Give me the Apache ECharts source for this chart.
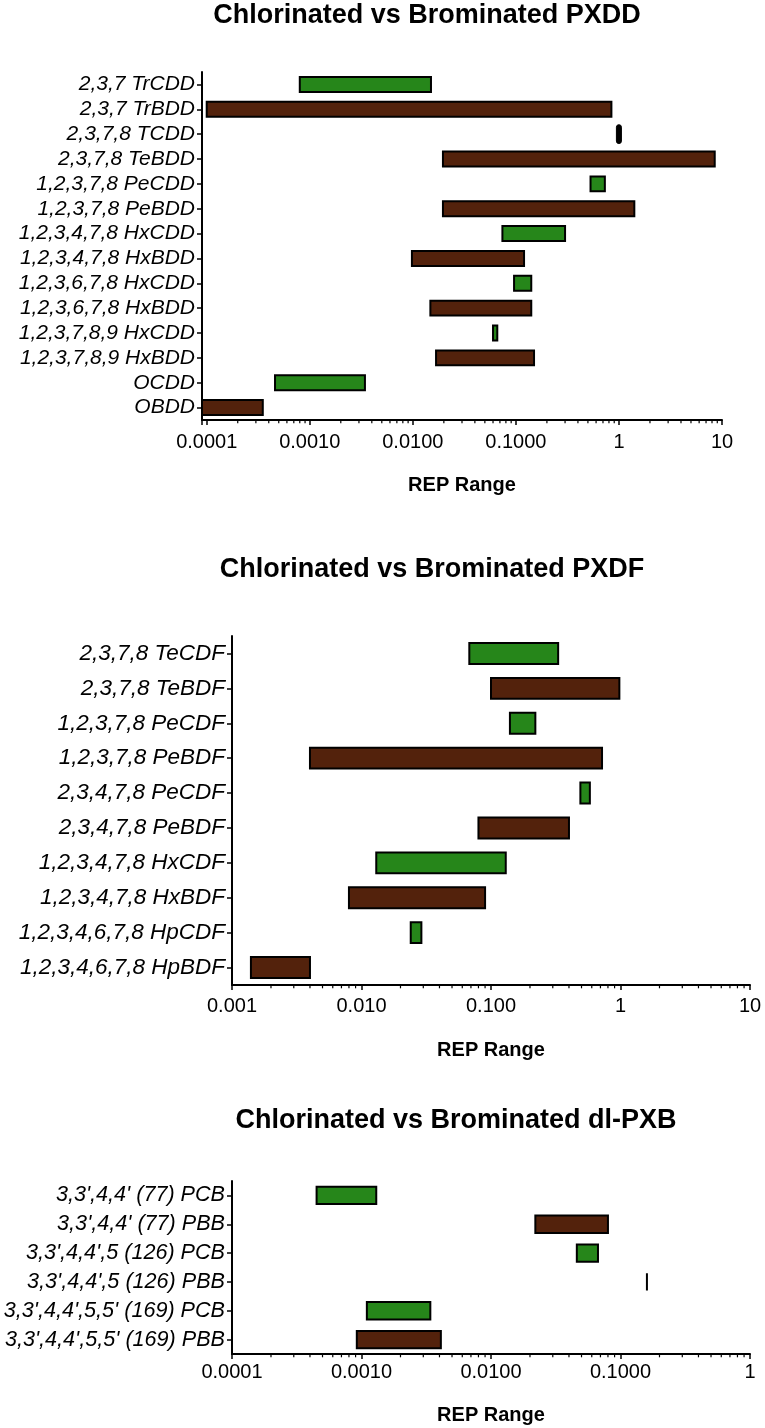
<!DOCTYPE html>
<html><head><meta charset="utf-8">
<script src="https://cdn.jsdelivr.net/npm/echarts@6/dist/echarts.min.js"></script>
<style>html,body{margin:0;padding:0;background:#fff}#c{width:765px;height:1428px}</style>
</head><body><div id="c"></div>
<script>
// ---------- data ----------
const pxddCategories = ['2,3,7 TrCDD','2,3,7 TrBDD','2,3,7,8 TCDD','2,3,7,8 TeBDD','1,2,3,7,8 PeCDD','1,2,3,7,8 PeBDD','1,2,3,4,7,8 HxCDD','1,2,3,4,7,8 HxBDD','1,2,3,6,7,8 HxCDD','1,2,3,6,7,8 HxBDD','1,2,3,7,8,9 HxCDD','1,2,3,7,8,9 HxBDD','OCDD','OBDD'];
const pxddLow  = [0.0008, 0.0001, 0.965, 0.0196, 0.53, 0.0196, 0.074, 0.0098, 0.096, 0.0148, 0.060, 0.0168, 0.00046, 0.00009];
const pxddHigh = [0.015, 0.845, 1.035, 8.5, 0.73, 1.41, 0.30, 0.12, 0.141, 0.141, 0.066, 0.150, 0.00343, 0.00035];
const pxddHalogen = ['Cl','Br','ref','Br','Cl','Br','Cl','Br','Cl','Br','Cl','Br','Cl','Br'];
const pxddTickLabels = ['0.0001','0.0010','0.0100','0.1000','1','10'];

const pxdfCategories = ['2,3,7,8 TeCDF','2,3,7,8 TeBDF','1,2,3,7,8 PeCDF','1,2,3,7,8 PeBDF','2,3,4,7,8 PeCDF','2,3,4,7,8 PeBDF','1,2,3,4,7,8 HxCDF','1,2,3,4,7,8 HxBDF','1,2,3,4,6,7,8 HpCDF','1,2,3,4,6,7,8 HpBDF'];
const pxdfLow  = [0.068, 0.10, 0.14, 0.004, 0.49, 0.08, 0.013, 0.008, 0.024, 0.0014];
const pxdfHigh = [0.33, 0.98, 0.22, 0.72, 0.58, 0.40, 0.13, 0.09, 0.029, 0.004];
const pxdfHalogen = ['Cl','Br','Cl','Br','Cl','Br','Cl','Br','Cl','Br'];
const pxdfTickLabels = ['0.001','0.010','0.100','1','10'];

const pxbCategories = ["3,3',4,4' (77) PCB","3,3',4,4' (77) PBB","3,3',4,4',5 (126) PCB","3,3',4,4',5 (126) PBB","3,3',4,4',5,5' (169) PCB","3,3',4,4',5,5' (169) PBB"];
const pxbLow  = [0.00045, 0.022, 0.046, 0.16, 0.0011, 0.00092];
const pxbHigh = [0.0013, 0.080, 0.067, 0.16, 0.0034, 0.0041];
const pxbHalogen = ['Cl','Br','Cl','Br','Cl','Br'];
const pxbTickLabels = ['0.0001','0.0010','0.0100','0.1000','1'];

const minorSteps = [2,3,4,5,6,7,8,9];

// ---------- chart ----------
const FONT = "'Liberation Sans', Arial, Helvetica, sans-serif";
const GREEN = '#26861a', BROWN = '#53220c';

const panels = [
  {cats: pxddCategories, lo: pxddLow, hi: pxddHigh, hal: pxddHalogen, ticks: pxddTickLabels, firstExp: -4, min: 0.00009, max: 10,
   grid: {left: 202, right: 43, top: 72, height: 348}, labelMargin: 12, nameGap: 55, catSize: 21,
   title: 'Chlorinated vs Brominated PXDD', tx: 427, ty: 16},
  {cats: pxdfCategories, lo: pxdfLow, hi: pxdfHigh, hal: pxdfHalogen, ticks: pxdfTickLabels, firstExp: -3, min: 0.001, max: 10,
   grid: {left: 232, right: 15, top: 636, height: 349}, labelMargin: 11, nameGap: 55, catSize: 22.5,
   title: 'Chlorinated vs Brominated PXDF', tx: 432, ty: 570},
  {cats: pxbCategories, lo: pxbLow, hi: pxbHigh, hal: pxbHalogen, ticks: pxbTickLabels, firstExp: -4, min: 0.0001, max: 1,
   grid: {left: 232, right: 15, top: 1181, height: 173}, labelMargin: 8, nameGap: 51, catSize: 21.6,
   title: 'Chlorinated vs Brominated dl-PXB', tx: 456, ty: 1121}
];

const option = {
  animation: false,
  backgroundColor: '#fff',
  grid: [], xAxis: [], yAxis: [], series: [], graphic: []
};

panels.forEach((p, i) => {
  option.grid.push(Object.assign({containLabel: false, outerBoundsMode: 'none'}, p.grid));
  option.graphic.push({type: 'text', x: p.tx, y: p.ty, silent: true,
    style: {text: p.title, font: 'bold 27px ' + FONT, fill: '#000', textAlign: 'center', textVerticalAlign: 'middle'}});
  option.xAxis.push({
    type: 'log', logBase: 10, gridIndex: i, min: p.min, max: p.max,
    name: 'REP Range', nameLocation: 'middle', nameGap: p.nameGap,
    nameTextStyle: {fontFamily: FONT, fontSize: 20, fontWeight: 'bold', color: '#000'},
    axisLine: {show: true, onZero: false, lineStyle: {color: '#000', width: 2}},
    axisTick: {show: true, length: 5, lineStyle: {color: '#000', width: 1.5}},
    minorTick: {show: false},
    splitLine: {show: false}, minorSplitLine: {show: false},
    axisLabel: {
      show: true, margin: p.labelMargin, color: '#000', fontFamily: FONT, fontSize: 20,
      formatter: (v) => {
        const e = Math.log10(v), r = Math.round(e);
        if (Math.abs(e - r) > 0.01) return '';
        const s = p.ticks[r - p.firstExp];
        return s === undefined ? '' : s;
      }
    }
  });
  option.yAxis.push({
    type: 'category', gridIndex: i, inverse: true, data: p.cats,
    axisLine: {show: true, onZero: false, lineStyle: {color: '#000', width: 2}},
    axisTick: {show: true, alignWithLabel: true, length: 5, lineStyle: {color: '#000', width: 1.5}},
    splitLine: {show: false},
    axisLabel: {interval: 0, margin: 7, color: '#000', fontFamily: FONT, fontSize: p.catSize, fontStyle: 'italic'}
  });
  const n = p.cats.length;
  // range bars
  option.series.push({
    type: 'custom', xAxisIndex: i, yAxisIndex: i, clip: false,
    encode: {x: [0, 1], y: 2},
    data: p.cats.map((c, k) => [p.lo[k], p.hi[k], k, p.hal[k] === 'Cl' ? 0 : (p.hal[k] === 'Br' ? 1 : 2)]),
    renderItem: (params, api) => {
      const lo = api.value(0), hi = api.value(1), k = api.value(2), kind = api.value(3);
      const a = api.coord([lo, k]), b = api.coord([hi, k]);
      const band = params.coordSys.height / n;
      const h = band * 0.6;
      if (kind === 2) {
        const w = Math.max(b[0] - a[0], 5);
        const cx = (a[0] + b[0]) / 2;
        return {type: 'rect', shape: {x: cx - w / 2, y: a[1] - band * 0.38, width: w, height: band * 0.76, r: w / 2},
          style: {fill: '#000', stroke: '#000', lineWidth: 1}};
      }
      return {type: 'rect', shape: {x: a[0], y: a[1] - h / 2, width: b[0] - a[0], height: h},
        style: {fill: kind === 0 ? GREEN : BROWN, stroke: '#000', lineWidth: 2}};
    }
  });
  // log minor ticks
  const minor = [];
  for (let e = Math.floor(Math.log10(p.min)); e < Math.log10(p.max); e++) {
    minorSteps.forEach(s => { const v = s * Math.pow(10, e); if (v > p.min && v < p.max) minor.push([v]); });
  }
  option.series.push({
    type: 'custom', xAxisIndex: i, yAxisIndex: i, clip: false, silent: true,
    encode: {x: 0},
    data: minor,
    renderItem: (params, api) => {
      const x = api.coord([api.value(0), 0])[0];
      const y = params.coordSys.y + params.coordSys.height;
      return {type: 'line', shape: {x1: x, y1: y, x2: x, y2: y + 3.3}, style: {stroke: '#000', lineWidth: 1.2}};
    }
  });
});

const chart = echarts.init(document.getElementById('c'), null, {renderer: 'canvas'});
chart.setOption(option);
</script>
</body></html>
